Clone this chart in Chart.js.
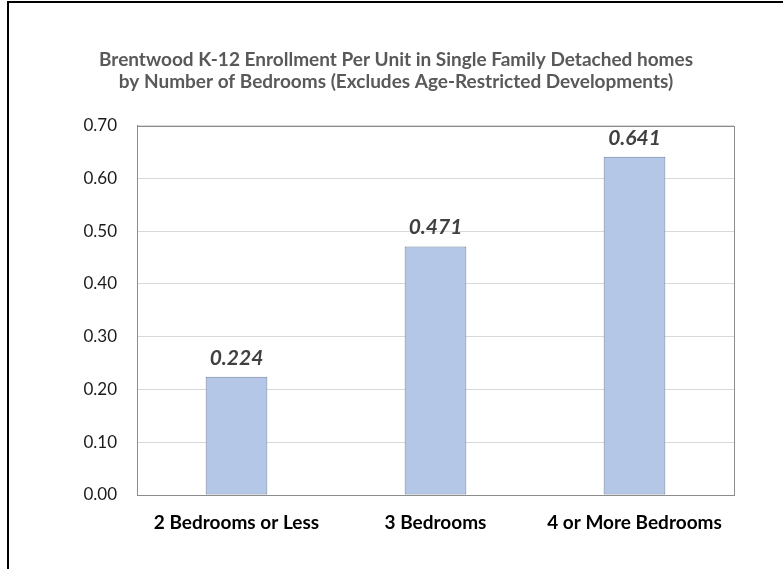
<!DOCTYPE html>
<html>
<head>
<meta charset="utf-8">
<script src="https://cdn.jsdelivr.net/npm/chart.js@4.4.0/dist/chart.umd.min.js"></script>
<style>
  html, body { margin: 0; padding: 0; background: #fff; }
  #wrap { position: relative; width: 783px; height: 569px; overflow: hidden; }
  #frame { position: absolute; left: 7px; top: 1px; width: 800px; height: 600px;
           border-left: 2px solid #000; border-top: 2px solid #000; box-sizing: border-box; }
  canvas { position: absolute; left: 0; top: 0; }
</style>
</head>
<body>
<div id="wrap">
  <canvas id="myChart" width="783" height="569"></canvas>
  <div id="frame"></div>
</div>
<script>
var categories = ['2 Bedrooms or Less', '3 Bedrooms', '4 or More Bedrooms'];
var enrollment = [0.224, 0.471, 0.641];
var titleLines = [
  'Brentwood K-12 Enrollment Per Unit in Single Family Detached homes',
  'by Number of Bedrooms (Excludes Age-Restricted Developments)'
];

var FONT = 'Lato, "Open Sans", sans-serif';

// gray box around the plot area
var plotFrame = {
  id: 'plotFrame',
  beforeDatasetsDraw: function (chart) {
    var a = chart.chartArea, ctx = chart.ctx;
    ctx.save();
    ctx.strokeStyle = '#8c8c8c';
    ctx.lineWidth = 1;
    ctx.strokeRect(Math.round(a.left) + 0.5, Math.round(a.top) + 0.5,
      Math.round(a.right - a.left), Math.round(a.bottom - a.top));
    ctx.restore();
  }
};

// value written above each bar
var barValues = {
  id: 'barValues',
  afterDatasetsDraw: function (chart) {
    var ctx = chart.ctx;
    var meta = chart.getDatasetMeta(0);
    ctx.save();
    ctx.font = 'italic bold 21px ' + FONT;
    ctx.fillStyle = '#404040';
    ctx.textAlign = 'center';
    ctx.textBaseline = 'alphabetic';
    meta.data.forEach(function (bar, i) {
      ctx.fillText(enrollment[i].toFixed(3), bar.x, bar.y - 12);
    });
    ctx.restore();
  }
};

var ctx = document.getElementById('myChart').getContext('2d');
var chart = new Chart(ctx, {
  type: 'bar',
  data: {
    labels: categories,
    datasets: [{
      data: enrollment,
      backgroundColor: '#b4c7e7',
      borderColor: '#6f7f9b',
      borderWidth: 1,
      borderSkipped: false,
      categoryPercentage: 1,
      barPercentage: 0.31
    }]
  },
  options: {
    responsive: false,
    animation: false,
    layout: { padding: { left: 58, right: 49, top: 0, bottom: 0 } },
    plugins: {
      legend: { display: false },
      tooltip: { enabled: false },
      title: {
        display: true,
        text: titleLines,
        color: '#595959',
        font: { family: FONT, size: 19, weight: 'bold', lineHeight: 1.2 },
        padding: { top: 48, bottom: 32 }
      }
    },
    scales: {
      x: {
        grid: { display: false, drawTicks: false },
        border: { display: true, color: '#8c8c8c' },
        ticks: {
          color: '#000',
          padding: 16,
          font: { family: FONT, size: 19, weight: 'bold' }
        },
        afterFit: function (scale) { scale.height = 74; }
      },
      y: {
        min: 0,
        max: 0.7,
        grid: { color: '#d9d9d9', drawTicks: false },
        border: { display: true, color: '#8c8c8c' },
        ticks: {
          stepSize: 0.1,
          color: '#1a1a1a',
          padding: 20,
          font: { family: FONT, size: 17 },
          callback: function (v) { return v.toFixed(2); }
        },
        afterFit: function (scale) { scale.width = 79; }
      }
    }
  },
  plugins: [plotFrame, barValues]
});
</script>
</body>
</html>
